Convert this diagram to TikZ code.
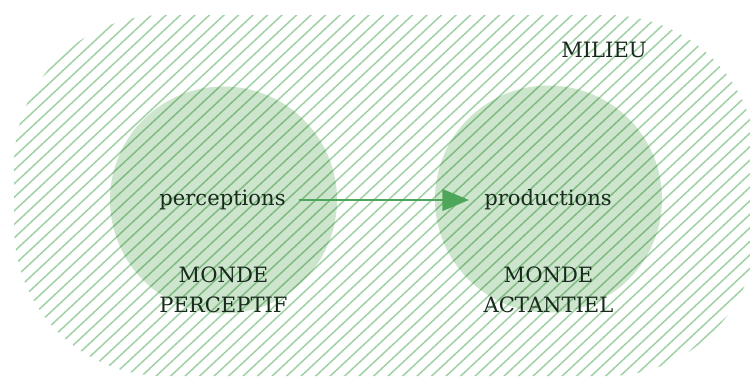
\documentclass[tikz,border=0pt]{standalone}
\usepackage{fontspec}
\setmainfont{DejaVu Serif}
\usepackage{tikz}
\usetikzlibrary{calc,arrows.meta,positioning}
\definecolor{hatchgreen}{RGB}{160,210,165}
\definecolor{discgreen}{RGB}{205,229,205}
\definecolor{arrowgreen}{RGB}{78,166,90}
\definecolor{inkgreen}{RGB}{24,42,28}

\begin{document}
\begin{tikzpicture}[x=0.03cm,y=-0.03cm,
    txt/.style={text=inkgreen,font=\fontsize{18}{25.5}\selectfont,align=center},
    monde/.style={circle,fill=discgreen,minimum size=6.81cm,inner sep=0pt},
    flow/.style={draw=arrowgreen,line width=1.7pt,-{Triangle[length=0.8cm,width=0.65cm]}}]
  \useasboundingbox (0,0) rectangle (750,386);
  % the two worlds
  \node[monde] (pw) at (223.5,200) {};
  \node[monde] (aw) at (548.5,199) {};
  % milieu, hatched
  \begin{scope}
    \clip[rounded corners=4.5cm] (14,15) rectangle (757,376);
    \begin{scope}[blend mode=multiply]
      \foreach \k in {-34,...,56}{
        \pgfmathsetmacro\hx{\k*14.5}
        \draw[hatchgreen,line width=1.3pt] (\hx,400) -- ++(450,-420);
      }
    \end{scope}
  \end{scope}
  \node[txt] (milieu) at (604,50) {MILIEU};
  \node[txt,inner xsep=0.39cm] (perc) at (222.5,200) {perceptions};
  \node[txt,inner xsep=0.45cm] (prod) at (548,200) {productions};
  \draw[flow] (perc) -- (prod);
  \node[txt] (pwlabel) at (223.5,290) {MONDE\\PERCEPTIF};
  \node[txt] (awlabel) at (548.5,290) {MONDE\\ACTANTIEL};
\end{tikzpicture}
\end{document}
